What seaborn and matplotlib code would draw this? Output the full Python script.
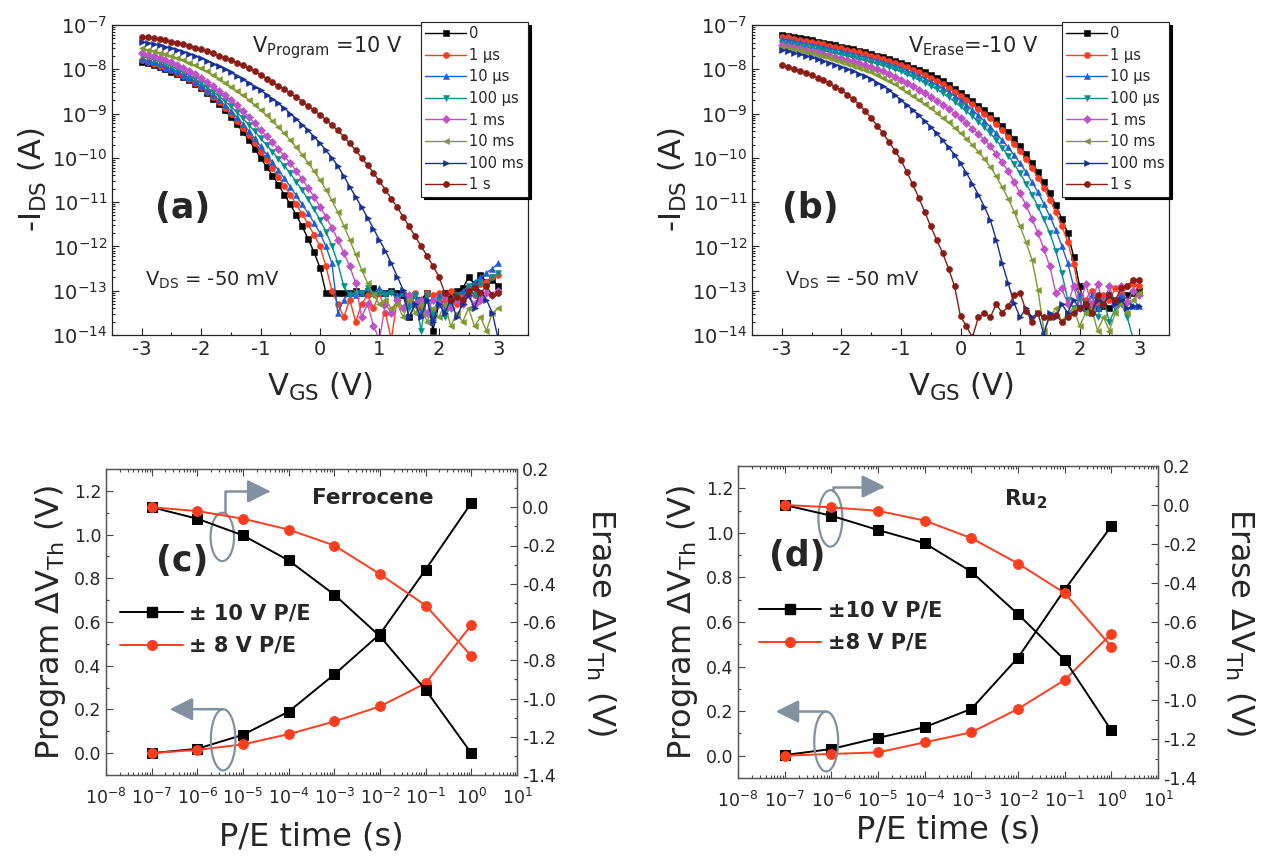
import numpy as np
import matplotlib
matplotlib.use("Agg")
import matplotlib.pyplot as plt
import seaborn as sns
from matplotlib.patches import Ellipse
from matplotlib.lines import Line2D
from matplotlib.ticker import (LogLocator, MultipleLocator, NullFormatter,
                               FixedLocator, FormatStrFormatter)

sns.set_theme(style="ticks")
plt.rcParams['font.family'] = ['DejaVu Sans']
plt.rcParams['mathtext.default'] = 'regular'
plt.rcParams['axes.unicode_minus'] = False

# ---------------- transfer curves: gate sweep, log10(-I_DS) ----------------
vgs = np.linspace(-3.0, 3.0, 61)  # measurement grid, 0.1 V steps
pulse_labels = ['0', '1 \u03bcs', '10 \u03bcs', '100 \u03bcs', '1 ms', '10 ms', '100 ms', '1 s']

# (a) program, V = +10 V
a_0 = [-7.83, -7.865, -7.905, -7.95, -8.00, -8.055, -8.115, -8.18, -8.25, -8.335,
       -8.43, -8.54, -8.66, -8.79, -8.93, -9.08, -9.24, -9.41, -9.59, -9.79,
       -10.00, -10.20, -10.40, -10.61, -10.83, -11.05, -11.29, -11.55, -11.83, -12.13,
       -12.48, -13.05, -13.05, -13.05, -13.05, -13.05, -13.0, -13.05, -13.0, -12.95,
       -13.05, -13.05, -13.0, -13.05, -13.1, -13.6, -13.3, -13.2, -13.05, -13.9,
       -13.3, -13.05, -13.1, -13.0, -12.95, -12.7, -12.85, -12.65, -12.8, -12.75,
       -12.9]
a_1us = [-7.80, -7.835, -7.875, -7.92, -7.97, -8.025, -8.085, -8.15, -8.22, -8.31,
         -8.41, -8.51, -8.62, -8.74, -8.87, -9.01, -9.16, -9.32, -9.49, -9.67,
         -9.86, -10.05, -10.24, -10.43, -10.63, -10.83, -11.05, -11.27, -11.5, -11.74,
         -12.0, -12.45, -13.0, -13.3, -13.6, -13.2, -13.7, -13.3, -13.1, -13.4,
         -13.05, -13.5, -14.1, -13.2, -13.05, -13.3, -13.05, -13.4, -13.05, -13.1,
         -13.05, -13.2, -13.0, -13.3, -13.1, -12.95, -13.1, -12.85, -12.8, -12.7,
         -12.65]
a_10us = [-7.77, -7.805, -7.845, -7.89, -7.94, -7.995, -8.055, -8.12, -8.19, -8.28,
          -8.38, -8.48, -8.58, -8.69, -8.81, -8.94, -9.08, -9.23, -9.39, -9.56,
          -9.74, -9.92, -10.1, -10.28, -10.46, -10.65, -10.85, -11.05, -11.25, -11.47,
          -11.7, -12.0, -12.38, -13.5, -13.2, -13.05, -13.1, -13.05, -12.95, -13.05,
          -12.95, -13.05, -13.0, -13.1, -13.05, -13.3, -13.1, -13.5, -13.2, -13.6,
          -13.1, -13.4, -13.2, -13.1, -13.0, -12.9, -12.8, -12.7, -12.6, -12.5,
          -12.38]
a_100us = [-7.71, -7.745, -7.785, -7.83, -7.88, -7.935, -7.995, -8.06, -8.13, -8.22,
           -8.32, -8.41, -8.51, -8.61, -8.72, -8.84, -8.97, -9.11, -9.25, -9.4,
           -9.56, -9.71, -9.86, -10.02, -10.18, -10.35, -10.54, -10.73, -10.94, -11.16,
           -11.4, -11.67, -11.98, -12.38, -12.9, -13.1, -13.05, -13.05, -12.95, -13.1,
           -13.05, -13.1, -13.05, -13.2, -13.05, -13.4, -13.1, -13.9, -13.1, -13.5,
           -13.2, -13.6, -13.3, -13.1, -13.2, -12.9, -13.1, -12.8, -12.95, -12.7,
           -12.6]
a_1ms = [-7.64, -7.675, -7.71, -7.75, -7.795, -7.845, -7.9, -7.96, -8.03, -8.11,
         -8.2, -8.29, -8.38, -8.48, -8.58, -8.69, -8.81, -8.94, -9.07, -9.22,
         -9.37, -9.51, -9.65, -9.8, -9.96, -10.12, -10.3, -10.48, -10.68, -10.88,
         -11.1, -11.33, -11.58, -11.85, -12.14, -12.45, -12.83, -13.6, -13.3, -13.8,
         -14.1, -13.3, -13.5, -13.2, -13.4, -13.1, -13.3, -13.2, -13.5, -13.2,
         -13.3, -13.1, -13.4, -13.2, -13.3, -13.1, -13.3, -13.2, -13.05, -13.1,
         -13.0]
a_10ms = [-7.53, -7.56, -7.59, -7.625, -7.66, -7.7, -7.745, -7.795, -7.85, -7.91,
          -7.98, -8.05, -8.13, -8.21, -8.3, -8.39, -8.49, -8.59, -8.69, -8.8,
          -8.92, -9.04, -9.17, -9.3, -9.45, -9.6, -9.76, -9.93, -10.11, -10.3,
          -10.5, -10.72, -10.96, -11.23, -11.53, -11.85, -12.18, -12.53, -12.83, -13.1,
          -13.3, -13.2, -13.4, -13.3, -13.6, -13.2, -13.5, -13.3, -13.7, -13.4,
          -13.6, -13.3, -13.8, -13.5, -13.7, -13.4, -13.8, -13.6, -13.9, -13.5,
          -13.4]
a_100ms = [-7.38, -7.405, -7.43, -7.46, -7.49, -7.525, -7.56, -7.6, -7.645, -7.695,
           -7.75, -7.81, -7.87, -7.93, -8.0, -8.07, -8.15, -8.23, -8.31, -8.39,
           -8.47, -8.57, -8.67, -8.77, -8.88, -9.0, -9.12, -9.25, -9.38, -9.52,
           -9.67, -9.83, -10.0, -10.18, -10.41, -10.65, -10.88, -11.11, -11.35, -11.6,
           -11.85, -12.1, -12.38, -12.68, -12.98, -13.6, -13.3, -13.6, -13.2, -13.7,
           -13.3, -13.5, -13.2, -13.6, -13.3, -13.1, -13.4, -13.0, -13.2, -13.5,
           -14.1]
a_1s = [-7.26, -7.28, -7.3, -7.325, -7.35, -7.375, -7.405, -7.435, -7.47, -7.51,
        -7.55, -7.595, -7.64, -7.69, -7.74, -7.79, -7.85, -7.91, -7.97, -8.05,
        -8.13, -8.21, -8.29, -8.37, -8.45, -8.54, -8.63, -8.73, -8.83, -8.93,
        -9.03, -9.14, -9.26, -9.38, -9.52, -9.67, -9.83, -10.0, -10.16, -10.34,
        -10.53, -10.72, -10.92, -11.12, -11.33, -11.55, -11.77, -11.99, -12.21, -12.44,
        -12.68, -13.05, -13.2, -13.15, -13.2, -13.0, -12.95, -13.05, -12.9, -13.1,
        -13.05]

# (b) erase, V = -10 V
b_0 = [-7.23, -7.25, -7.275, -7.3, -7.325, -7.35, -7.375, -7.405, -7.435, -7.46,
       -7.49, -7.52, -7.55, -7.58, -7.615, -7.65, -7.69, -7.73, -7.77, -7.815,
       -7.86, -7.91, -7.96, -8.015, -8.07, -8.13, -8.2, -8.27, -8.35, -8.44,
       -8.54, -8.63, -8.72, -8.82, -8.92, -9.03, -9.15, -9.28, -9.42, -9.57,
       -9.74, -9.92, -10.11, -10.32, -10.55, -10.8, -11.07, -11.37, -11.7, -12.23,
       -12.9, -13.4, -13.35, -13.4, -13.35, -13.4, -13.3, -13.2, -13.1, -13.05,
       -13.0]
b_1us = [-7.26, -7.28, -7.305, -7.33, -7.355, -7.38, -7.405, -7.435, -7.465, -7.495,
         -7.525, -7.555, -7.585, -7.62, -7.655, -7.69, -7.73, -7.77, -7.815, -7.86,
         -7.905, -7.955, -8.01, -8.065, -8.125, -8.19, -8.26, -8.34, -8.42, -8.51,
         -8.6, -8.69, -8.79, -8.89, -9.0, -9.11, -9.24, -9.37, -9.52, -9.68,
         -9.85, -10.03, -10.23, -10.45, -10.69, -10.95, -11.23, -11.54, -11.9, -12.4,
         -13.1, -13.2, -13.0, -13.3, -13.1, -13.2, -12.95, -13.1, -12.9, -12.85,
         -12.9]
b_10us = [-7.32, -7.345, -7.37, -7.395, -7.42, -7.445, -7.47, -7.5, -7.53, -7.56,
          -7.59, -7.62, -7.655, -7.69, -7.725, -7.76, -7.8, -7.84, -7.885, -7.93,
          -7.98, -8.03, -8.09, -8.15, -8.21, -8.28, -8.35, -8.43, -8.51, -8.6,
          -8.7, -8.81, -8.92, -9.04, -9.17, -9.3, -9.45, -9.6, -9.76, -9.94,
          -10.12, -10.32, -10.54, -10.78, -11.04, -11.32, -11.63, -11.98, -12.38, -12.9,
          -13.1, -13.3, -13.1, -13.4, -13.2, -13.05, -13.3, -13.1, -13.2, -13.35,
          -13.35]
b_100us = [-7.4, -7.425, -7.45, -7.475, -7.5, -7.525, -7.55, -7.58, -7.61, -7.64,
           -7.67, -7.7, -7.73, -7.765, -7.8, -7.835, -7.87, -7.91, -7.95, -8.0,
           -8.05, -8.11, -8.17, -8.23, -8.3, -8.37, -8.45, -8.54, -8.63, -8.73,
           -8.84, -8.95, -9.06, -9.18, -9.31, -9.44, -9.6, -9.77, -9.95, -10.14,
           -10.35, -10.58, -10.83, -11.1, -11.39, -11.7, -12.1, -12.6, -13.2, -13.4,
           -13.2, -13.5, -13.3, -13.6, -13.2, -13.7, -13.4, -13.3, -13.6, -14.1,
           -14.1]
b_1ms = [-7.45, -7.475, -7.5, -7.53, -7.56, -7.59, -7.62, -7.65, -7.68, -7.715,
         -7.75, -7.785, -7.82, -7.86, -7.9, -7.94, -7.99, -8.04, -8.1, -8.17,
         -8.24, -8.31, -8.38, -8.46, -8.54, -8.62, -8.71, -8.8, -8.9, -9.0,
         -9.11, -9.22, -9.34, -9.46, -9.6, -9.74, -9.92, -10.1, -10.3, -10.54,
         -10.8, -11.07, -11.37, -11.7, -12.06, -12.45, -13.05, -12.95, -13.3, -12.9,
         -13.4, -12.85, -13.3, -12.85, -13.3, -12.9, -13.3, -12.9, -13.25, -13.0,
         -13.1]
b_10ms = [-7.49, -7.515, -7.545, -7.575, -7.605, -7.64, -7.675, -7.71, -7.75, -7.79,
          -7.83, -7.87, -7.915, -7.96, -8.01, -8.06, -8.12, -8.19, -8.26, -8.34,
          -8.43, -8.51, -8.6, -8.69, -8.78, -8.88, -8.98, -9.09, -9.2, -9.32,
          -9.44, -9.57, -9.71, -9.86, -10.02, -10.2, -10.42, -10.66, -10.92, -11.22,
          -11.55, -11.9, -12.3, -12.98, -13.9, -13.6, -13.4, -13.7, -13.5, -13.4,
          -13.8, -13.5, -13.4, -13.9, -13.6, -13.9, -13.5, -13.3, -13.5, -13.2,
          -13.05]
b_100ms = [-7.56, -7.59, -7.625, -7.66, -7.695, -7.73, -7.77, -7.81, -7.85, -7.895,
           -7.94, -7.99, -8.04, -8.1, -8.16, -8.22, -8.3, -8.38, -8.47, -8.58,
           -8.7, -8.81, -8.92, -9.04, -9.17, -9.3, -9.45, -9.6, -9.76, -9.93,
           -10.12, -10.34, -10.58, -10.83, -11.1, -11.4, -11.85, -12.38, -12.83, -13.28,
           -13.6, -13.4, -13.6, -13.5, -14.0, -13.5, -13.6, -13.3, -13.5, -13.2,
           -13.4, -13.3, -13.5, -13.2, -13.3, -13.1, -13.3, -13.2, -13.4, -13.35,
           -13.35]
b_1s = [-7.9, -7.94, -7.985, -8.03, -8.08, -8.135, -8.19, -8.25, -8.32, -8.39,
        -8.47, -8.57, -8.68, -8.8, -8.94, -9.1, -9.27, -9.45, -9.64, -9.84,
        -10.05, -10.32, -10.6, -10.9, -11.22, -11.55, -11.85, -12.15, -12.5, -12.9,
        -13.58, -13.8, -14.05, -13.6, -13.5, -13.6, -13.3, -13.5, -13.35, -13.1,
        -13.05, -13.45, -13.7, -13.5, -13.6, -13.6, -13.55, -13.7, -13.6, -13.5,
        -13.4, -13.3, -13.5, -13.1, -13.3, -13.1, -13.2, -12.95, -12.9, -12.75,
        -12.75]

prog_curves = [a_0, a_1us, a_10us, a_100us, a_1ms, a_10ms, a_100ms, a_1s]
erase_curves = [b_0, b_1us, b_10us, b_100us, b_1ms, b_10ms, b_100ms, b_1s]

# ---------------- threshold shift vs pulse time ----------------
pe_time = [1e-7, 1e-6, 1e-5, 1e-4, 1e-3, 1e-2, 1e-1, 1e0]
c_prog_10 = [0.00, 0.02, 0.084, 0.19, 0.36, 0.545, 0.84, 1.145]
c_erase_10 = [0.0, -0.06, -0.147, -0.278, -0.457, -0.675, -0.955, -1.286]
c_prog_8 = [0.0, 0.015, 0.04, 0.087, 0.145, 0.214, 0.32, 0.586]
c_erase_8 = [0.0, -0.02, -0.06, -0.117, -0.2, -0.35, -0.514, -0.777]
d_prog_10 = [0.003, 0.03, 0.08, 0.128, 0.21, 0.44, 0.745, 1.03]
d_erase_10 = [0.0, -0.055, -0.128, -0.196, -0.342, -0.56, -0.794, -1.156]
d_prog_8 = [0.0, 0.008, 0.015, 0.06, 0.105, 0.21, 0.34, 0.547]
d_erase_8 = [0.0, -0.012, -0.03, -0.08, -0.17, -0.3, -0.452, -0.726]

colors = ['#000000', '#ff3d1f', '#1f5fd6', '#00908e', '#c04fc8', '#7f9a2e', '#15309a', '#8b1c14']
markers = ['s', 'o', '^', 'v', 'D', '<', '>', 'o']
red = '#ff3d1f'
gray = '#8291a0'

fig = plt.figure(figsize=(12.67, 8.63), dpi=100)
W, H = 1267, 863


def rect(x0, y0, x1, y1):
    return [x0 / W, 1 - y1 / H, (x1 - x0) / W, (y1 - y0) / H]


ax_a = fig.add_axes(rect(112, 25, 528, 335))
ax_b = fig.add_axes(rect(752, 25, 1169, 335))
ax_c = fig.add_axes(rect(106, 469, 517, 775))
ax_d = fig.add_axes(rect(738, 466, 1158, 778))

# top row
top_panels = [
    (ax_a, prog_curves, '(a)', 0.17, r'$V_{Program}$ =10 V', 0.336),
    (ax_b, erase_curves, '(b)', 0.14, r'$V_{Erase}$=-10 V', 0.373),
]
for ax, curves, letter, lx, note, nx in top_panels:
    for lab, logi, col, mk in zip(pulse_labels, curves, colors, markers):
        ms = 3.6 if mk == 'D' else 4.4
        sns.lineplot(x=vgs, y=np.power(10.0, logi), ax=ax, color=col, marker=mk,
                     markersize=ms, markeredgecolor=col, markeredgewidth=0.4,
                     linewidth=1.0, label=lab)
    ax.set_yscale('log')
    ax.set_xlim(-3.5, 3.5)
    ax.set_ylim(1e-14, 1e-7)
    ax.set_xticks([-3, -2, -1, 0, 1, 2, 3])
    ax.xaxis.set_minor_locator(MultipleLocator(0.5))
    ax.yaxis.set_major_locator(LogLocator(base=10, numticks=12))
    ax.yaxis.set_minor_locator(LogLocator(base=10, subs=np.arange(2, 10), numticks=12))
    ax.yaxis.set_minor_formatter(NullFormatter())
    ax.tick_params(which='both', direction='in', top=False, right=False,
                   labelsize=14, width=0.8, color='#222222')
    ax.tick_params(which='major', length=5)
    ax.tick_params(which='minor', length=2.5)
    for s in ax.spines.values():
        s.set_color('#222222')
        s.set_linewidth(0.9)
    ax.set_xlabel(r'$V_{GS}$ (V)', fontsize=22, labelpad=9)
    ax.set_ylabel(r'-$I_{DS}$ (A)', fontsize=22, labelpad=2)
    ax.text(lx, 0.41, letter, transform=ax.transAxes, fontsize=25,
            fontweight='bold', ha='center', va='center')
    ax.text(nx, 0.91, note, transform=ax.transAxes, fontsize=15, va='baseline')
    ax.text(0.08, 0.16, r'$V_{DS}$ = -50 mV', transform=ax.transAxes,
            fontsize=14, va='baseline')
    leg = ax.legend(loc='upper right', bbox_to_anchor=(1.0, 1.01), fontsize=10.5,
                    frameon=True, fancybox=False, edgecolor='#222222', framealpha=1,
                    shadow={'color': 'black', 'alpha': 1}, borderpad=0.3,
                    labelspacing=0.45, handlelength=2.8, handletextpad=0.2,
                    borderaxespad=0, numpoints=1)
    leg.get_frame().set_linewidth(0.8)

# bottom row
bottom_panels = [
    (ax_c, c_prog_10, c_erase_10, c_prog_8, c_erase_8,
     dict(letter='(c)', lpos=(0.185, 0.70), mol='Ferrocene', mpos=(0.65, 0.905),
          labels=['\u00b1 10 V P/E', '\u00b1 8 V P/E'], leg=(0.015, 0.475),
          eu=(0.283, 0.778, 0.057, 0.158), el=(0.285, 0.115, 0.06, 0.2),
          au=((0.29, 0.857), (0.40, 0.927)), al=((0.285, 0.215), (0.155, 0.215)),
          xlabelpad=10, rpad=20)),
    (ax_d, d_prog_10, d_erase_10, d_prog_8, d_erase_8,
     dict(letter='(d)', lpos=(0.14, 0.71), mol=r'Ru$_2$', mpos=(0.684, 0.895),
          labels=['\u00b110 V P/E', '\u00b18 V P/E'], leg=(0.03, 0.485),
          eu=(0.22, 0.832, 0.057, 0.181), el=(0.21, 0.117, 0.057, 0.192),
          au=((0.225, 0.92), (0.35, 0.934)), al=((0.21, 0.213), (0.09, 0.213)),
          xlabelpad=3, rpad=19)),
]
for ax, p10, e10, p8, e8, lay in bottom_panels:
    ax2 = ax.twinx()
    sns.lineplot(x=pe_time, y=p10, ax=ax, color='black', marker='s', markersize=7,
                 markeredgecolor='black', linewidth=1.4, legend=False)
    sns.lineplot(x=pe_time, y=p8, ax=ax, color=red, marker='o', markersize=7,
                 markeredgecolor=red, linewidth=1.4, legend=False)
    sns.lineplot(x=pe_time, y=e10, ax=ax2, color='black', marker='s', markersize=7,
                 markeredgecolor='black', linewidth=1.4, legend=False)
    sns.lineplot(x=pe_time, y=e8, ax=ax2, color=red, marker='o', markersize=7,
                 markeredgecolor=red, linewidth=1.4, legend=False)
    ax.set_xscale('log')
    ax.set_xlim(1e-8, 1e1)
    ax.set_ylim(-0.1, 1.3)
    ax2.set_ylim(-1.4, 0.2)
    ax.xaxis.set_major_locator(LogLocator(base=10, numticks=20))
    ax.xaxis.set_minor_locator(LogLocator(base=10, subs=np.arange(2, 10), numticks=20))
    ax.xaxis.set_minor_formatter(NullFormatter())
    ax.yaxis.set_major_locator(FixedLocator([0.0, 0.2, 0.4, 0.6, 0.8, 1.0, 1.2]))
    ax.yaxis.set_major_formatter(FormatStrFormatter('%.1f'))
    ax.yaxis.set_minor_locator(MultipleLocator(0.1))
    ax2.yaxis.set_major_locator(FixedLocator([-1.4, -1.2, -1.0, -0.8, -0.6, -0.4,
                                              -0.2, 0.0, 0.2]))
    ax2.yaxis.set_major_formatter(FormatStrFormatter('%.1f'))
    ax2.yaxis.set_minor_locator(MultipleLocator(0.1))
    ax.tick_params(which='both', direction='in', top=True, labelsize=12.5,
                   width=0.8, color='#444444')
    ax.tick_params(axis='x', which='major', pad=9)
    ax2.tick_params(which='both', direction='in', labelsize=12.5, width=0.8,
                    color='#444444')
    for a in (ax, ax2):
        a.tick_params(which='major', length=5)
        a.tick_params(which='minor', length=2.5)
        for s in a.spines.values():
            s.set_color('#555555')
            s.set_linewidth(0.9)
    ax.set_xlabel('P/E time (s)', fontsize=23, labelpad=lay['xlabelpad'])
    ax.set_ylabel(r'Program $\Delta V_{Th}$ (V)', fontsize=23, labelpad=4)
    ax2.set_ylabel(r'Erase $\Delta V_{Th}$ (V)', fontsize=23, rotation=270,
                   va='bottom', labelpad=lay['rpad'])

    ax.text(*lay['lpos'], lay['letter'], transform=ax.transAxes, fontsize=25,
            fontweight='bold', ha='center', va='center')
    ax.text(*lay['mpos'], lay['mol'], transform=ax.transAxes, fontsize=15.5,
            fontweight='bold', ha='center', va='center')

    for (xc, yc, w, h) in (lay['eu'], lay['el']):
        ax.add_patch(Ellipse((xc, yc), w, h, transform=ax.transAxes, fill=False,
                             edgecolor=gray, linewidth=1.6, zorder=5))
    start, end = lay['au']
    ax.annotate('', xy=end, xytext=start, xycoords='axes fraction',
                textcoords='axes fraction',
                arrowprops=dict(arrowstyle='-|>,head_length=0.7,head_width=0.35',
                                mutation_scale=20, color=gray, lw=1.8,
                                connectionstyle='angle,angleA=90,angleB=0,rad=0',
                                shrinkA=0, shrinkB=0))
    start, end = lay['al']
    ax.annotate('', xy=end, xytext=start, xycoords='axes fraction',
                textcoords='axes fraction',
                arrowprops=dict(arrowstyle='-|>,head_length=0.7,head_width=0.35',
                                mutation_scale=20, color=gray, lw=1.8,
                                shrinkA=0, shrinkB=0))

    handles = [Line2D([], [], color='black', marker='s', markersize=7, linewidth=1.4),
               Line2D([], [], color=red, marker='o', markersize=7, linewidth=1.4)]
    ax2.legend(handles, lay['labels'], loc='center left', bbox_to_anchor=lay['leg'],
               frameon=False, prop={'weight': 'bold', 'size': 15},
               handlelength=3.0, handletextpad=0.3, labelspacing=0.6,
               borderaxespad=0, numpoints=1)

fig.savefig('out.png', dpi=100)
